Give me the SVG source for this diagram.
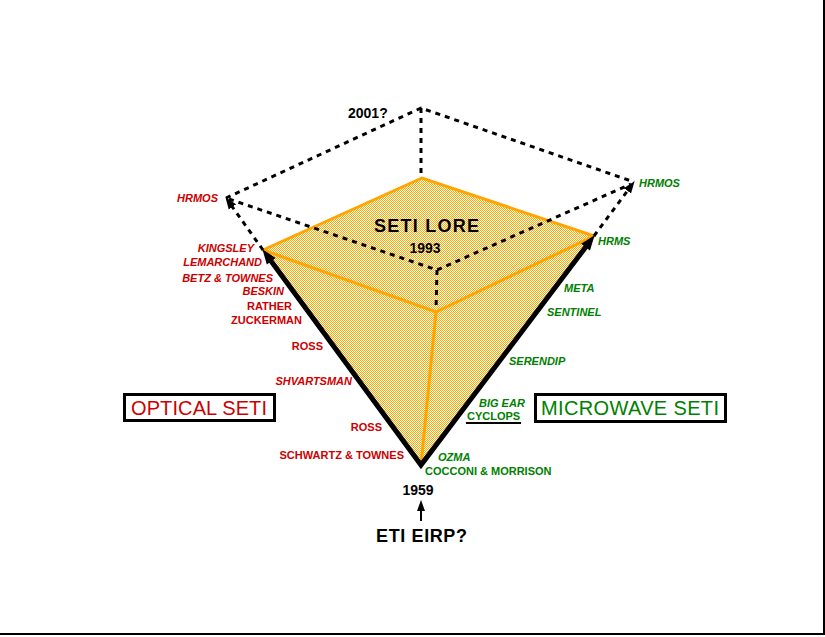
<svg xmlns="http://www.w3.org/2000/svg" width="825" height="637" viewBox="0 0 825 637">
<style>
.lbl{font-family:"Liberation Sans",Arial,sans-serif;font-weight:bold;font-size:11px}
.it{font-style:italic}
.red{fill:#cc0000}
.grn{fill:#008000}
.end{text-anchor:end}
.blk{font-family:"Liberation Sans",Arial,sans-serif;font-weight:bold;fill:#000}
.dash{fill:none;stroke:#000;stroke-width:3;stroke-dasharray:5 5}
.org{fill:none;stroke:#ffa500;stroke-width:3;stroke-linecap:round}
.box{fill:#fff;stroke:#000;stroke-width:3}
.big{font-family:"Liberation Sans",Arial,sans-serif;font-size:20px}
</style>
<defs>
<pattern id="chk" x="0" y="0" width="2" height="2" patternUnits="userSpaceOnUse">
<rect width="2" height="2" fill="#fff" shape-rendering="crispEdges"/>
<rect width="1" height="1" fill="#ffa500" shape-rendering="crispEdges"/>
<rect x="1" y="1" width="1" height="1" fill="#ffa500" shape-rendering="crispEdges"/>
</pattern>
<marker id="bigArrow" markerUnits="userSpaceOnUse" markerWidth="20" markerHeight="14" viewBox="0 -7 16 14" refX="6" refY="0" orient="auto-start-reverse">
<path d="M0,-5.5 L15,0 L0,5.5 z" fill="#000"/>
</marker>
<marker id="dashArrow" markerUnits="userSpaceOnUse" markerWidth="14" markerHeight="10" viewBox="0 -5 14 10" refX="5" refY="0" orient="auto">
<path d="M0,-4.5 L12,0 L0,4.5 z" fill="#000"/>
</marker>
<marker id="smallArrow" markerUnits="userSpaceOnUse" markerWidth="12" markerHeight="10" viewBox="0 -5 12 10" refX="2" refY="0" orient="auto">
<path d="M0,-4 L11,0 L0,4 z" fill="#000"/>
</marker>
</defs>
<rect width="825" height="637" fill="#fff"/>
<g id="frame">
<line x1="824" y1="0" x2="824" y2="635" stroke="#000" stroke-width="2"/>
<line x1="0" y1="634" x2="825" y2="634" stroke="#000" stroke-width="2"/>
</g>
<g id="pyramid">
<polygon points="422,178 594,236 421,465 263,250" fill="url(#chk)" stroke="#ffa500" stroke-width="1"/>
<polyline class="org" points="263,250 422,178 594,236"/>
<polyline class="org" points="263,250 436,312 594,236"/>
<line class="org" x1="436" y1="312" x2="421" y2="465"/>
</g>
<g id="connectors">
<polyline class="dash" points="226,198 421,108 634,182"/>
<line class="dash" x1="421" y1="108" x2="421" y2="178"/>
<polyline class="dash" points="229,199 437,270 631,184"/>
<line class="dash" x1="437" y1="270" x2="436" y2="310"/>
<line class="dash" x1="263" y1="250" x2="229.5" y2="202.9" marker-end="url(#dashArrow)"/>
<line class="dash" x1="594" y1="236" x2="630.4" y2="186.8" marker-end="url(#dashArrow)"/>
<path d="M267.7,256.4 L421,465 L589.2,242.4" fill="none" stroke="#000" stroke-width="5" stroke-linejoin="miter" marker-start="url(#bigArrow)" marker-end="url(#bigArrow)"/>
<line x1="421" y1="521" x2="421" y2="509" stroke="#000" stroke-width="2" marker-end="url(#smallArrow)"/>
</g>
<g id="titles">
<text class="blk" x="348" y="118" font-size="14">2001?</text>
<text class="blk" x="374" y="232" font-size="18" textLength="105">SETI LORE</text>
<text class="blk" x="425" y="253" font-size="14" text-anchor="middle">1993</text>
<text class="blk" x="418" y="495" font-size="14" text-anchor="middle">1959</text>
<text class="blk" x="376" y="542" font-size="18" textLength="91">ETI EIRP?</text>
</g>
<g id="optical-labels">
<text class="lbl it red end" x="218" y="202">HRMOS</text>
<text class="lbl it red end" x="254" y="252">KINGSLEY</text>
<text class="lbl it red end" x="262" y="266">LEMARCHAND</text>
<text class="lbl it red end" x="273" y="282">BETZ &amp; TOWNES</text>
<text class="lbl it red end" x="284" y="295">BESKIN</text>
<text class="lbl red end" x="292" y="310">RATHER</text>
<text class="lbl red end" x="302" y="324">ZUCKERMAN</text>
<text class="lbl red end" x="323" y="350">ROSS</text>
<text class="lbl it red end" x="352" y="385">SHVARTSMAN</text>
<text class="lbl red end" x="382" y="431">ROSS</text>
<text class="lbl red end" x="404" y="459">SCHWARTZ &amp; TOWNES</text>
</g>
<g id="microwave-labels">
<text class="lbl it grn" x="639" y="187">HRMOS</text>
<text class="lbl it grn" x="598" y="245">HRMS</text>
<text class="lbl it grn" x="564" y="292">META</text>
<text class="lbl it grn" x="547" y="316">SENTINEL</text>
<text class="lbl it grn" x="509" y="365">SERENDIP</text>
<text class="lbl it grn" x="479" y="407">BIG EAR</text>
<text class="lbl grn" x="467" y="420">CYCLOPS</text>
<line x1="466" y1="423" x2="521" y2="423" stroke="#000" stroke-width="2"/>
<text class="lbl it grn" x="438" y="461">OZMA</text>
<text class="lbl grn" x="425" y="475">COCCONI &amp; MORRISON</text>
</g>
<g id="optical-seti">
<rect class="box" x="124.5" y="394.5" width="150" height="26"/>
<text class="big red" x="131" y="415" textLength="136">OPTICAL SETI</text>
</g>
<g id="microwave-seti">
<rect class="box" x="535.5" y="394.5" width="190" height="27"/>
<text class="big grn" x="541" y="415" textLength="178">MICROWAVE SETI</text>
</g>
</svg>
